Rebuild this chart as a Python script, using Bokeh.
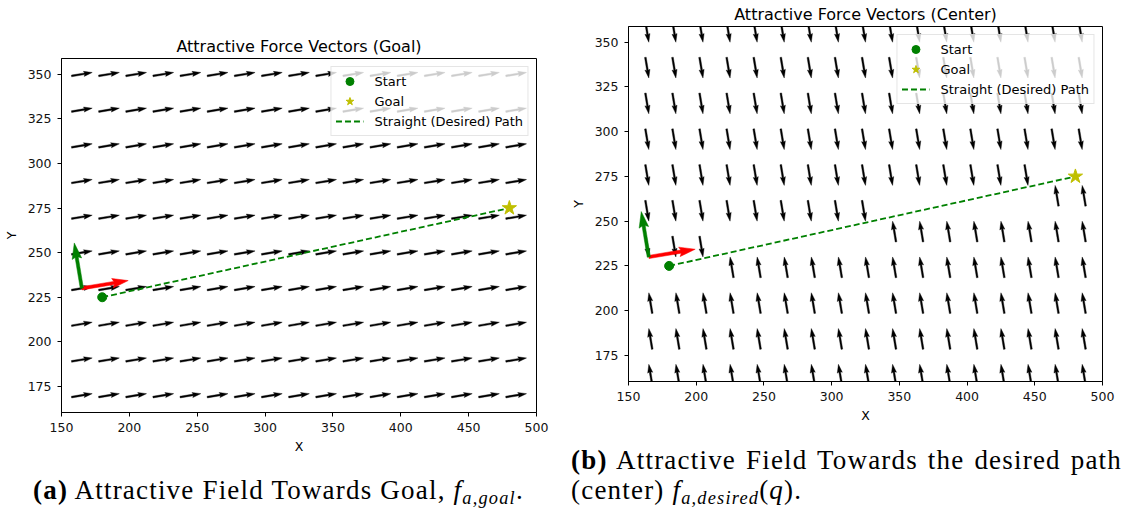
import math
from bokeh.plotting import figure
from bokeh.models import Range1d, FixedTicker, Legend, LegendItem, Div
from bokeh.layouts import row, column
from bokeh.embed import file_html
from bokeh.resources import INLINE

# ---------------- data ----------------
x_ticks = [150, 200, 250, 300, 350, 400, 450, 500]
y_ticks = [175, 200, 225, 250, 275, 300, 325, 350]
grid_x = [165, 185, 205, 225, 245, 265, 285, 305, 325, 345, 365, 385, 405, 425, 445, 465, 485]
grid_y = [170, 190, 210, 230, 250, 270, 290, 310, 330, 350]
start_pt = [180, 225]
goal_pt = [480, 275]
robot_pt = [165, 230]
# direction of the "center" field at every grid point, rows from y=170 up to y=350
center_dirs = [
    "UUUUUUUUUUUUUUUUU",  # 170
    "UUUUUUUUUUUUUUUUU",  # 190
    "UUUUUUUUUUUUUUUUU",  # 210
    "DDDUUUUUUUUUUUUUU",  # 230
    "DDDDDDDDDUUUUUUUU",  # 250
    "DDDDDDDDDDDDDDDUU",  # 270
    "DDDDDDDDDDDDDDDDD",  # 290
    "DDDDDDDDDDDDDDDDD",  # 310
    "DDDDDDDDDDDDDDDDD",  # 330
    "DDDDDDDDDDDDDDDDD",  # 350
]
titles = ["Attractive Force Vectors (Goal)", "Attractive Force Vectors (Center)"]
legend_labels = ["Start", "Goal", "Straight (Desired) Path"]
caption_a = '<b>(a)</b> Attractive Field Towards Goal, <i>f</i><sub style="font-size:0.68em;vertical-align:-0.28em;line-height:0"><i>a,goal</i></sub>.'
caption_b = ('<span style="word-spacing:2px"><b>(b)</b> Attractive Field Towards the desired path</span><br>'
             '(center) <i>f</i><sub style="font-size:0.68em;vertical-align:-0.28em;line-height:0"><i>a,desired</i></sub>(<i>q</i>).')

# ---------------- geometry / style ----------------
X0, X1 = 150, 500
Y0, Y1 = 160.4, 358.8
FONT = "DejaVu Sans"

path_ang = math.atan2(goal_pt[1] - start_pt[1], goal_pt[0] - start_pt[0])


def arrow_poly(x0, y0, ang, L, w, sx, sy, pivot):
    ux, uy = math.cos(ang), math.sin(ang)
    px, py = -uy, ux
    hl, hw, hal = 5 * w, 1.5 * w, 4.5 * w
    pts = [(0, -w / 2), (L - hal, -w / 2), (L - hl, -hw), (L, 0),
           (L - hl, hw), (L - hal, w / 2), (0, w / 2)]
    off = {"tail": 0.0, "mid": L / 2, "tip": L}[pivot]
    xs = [x0 + ((a - off) * ux + b * px) / sx for a, b in pts]
    ys = [y0 + ((a - off) * uy + b * py) / sy for a, b in pts]
    return xs, ys


def make_fig(title, fw, fh, mbl, mbr, mbt, mbb):
    p = figure(frame_width=fw, frame_height=fh,
               x_range=Range1d(X0, X1), y_range=Range1d(Y0, Y1),
               output_backend="svg", toolbar_location=None,
               min_border_left=mbl, min_border_right=mbr,
               min_border_top=mbt, min_border_bottom=mbb,
               background_fill_color="white", border_fill_color="white")
    p.title.text = title
    p.title.align = "center"
    p.title.text_font = FONT
    p.title.text_font_size = "16px"
    p.title.text_font_style = "normal"
    p.title.text_color = "black"
    p.title.standoff = 5
    p.title.text_line_height = 1.0
    p.xgrid.visible = False
    p.ygrid.visible = False
    p.outline_line_color = "black"
    p.outline_line_alpha = 1.0
    p.outline_line_width = 1
    for ax, lab, ticks in ((p.xaxis, "X", x_ticks), (p.yaxis, "Y", y_ticks)):
        ax.ticker = FixedTicker(ticks=ticks)
        ax.axis_label = lab
        ax.axis_label_text_font = FONT
        ax.axis_label_text_font_size = "12.5px"
        ax.axis_label_text_font_style = "normal"
        ax.axis_label_text_color = "black"
        ax.major_label_text_font = FONT
        ax.major_label_text_font_size = "12.5px"
        ax.major_label_text_color = "#111111"
        ax.major_tick_in = 0
        ax.major_tick_out = 4
        ax.minor_tick_line_color = None
        ax.axis_line_color = "black"
        ax.major_tick_line_color = "black"
        ax.major_label_standoff = 6
    p.yaxis.axis_label_standoff = 6
    p.xaxis.axis_label_standoff = 4
    return p


def decorate(p, fw, fh, field_xs, field_ys):
    sx = fw / (X1 - X0)
    sy = fh / (Y1 - Y0)
    p.patches(field_xs, field_ys, fill_color="black", line_color="black", line_width=0.4)
    path_r = p.line([start_pt[0], goal_pt[0]], [start_pt[1], goal_pt[1]],
                    line_color="#008000", line_width=1.8, line_dash="6 3")
    rx, ry = arrow_poly(robot_pt[0], robot_pt[1], path_ang, 47, 3.2, sx, sy, "tail")
    gx, gy = arrow_poly(robot_pt[0], robot_pt[1], path_ang + math.pi / 2, 46, 3.2, sx, sy, "tail")
    p.patches([rx, gx], [ry, gy], fill_color=["#ff0000", "#008000"],
              line_color=["#ff0000", "#008000"], line_width=0.5)
    start_r = p.scatter([start_pt[0]], [start_pt[1]], marker="circle", size=9,
                        fill_color="#008000", line_color="#008000")
    goal_r = p.scatter([goal_pt[0]], [goal_pt[1]], marker="star", size=15,
                       fill_color="#bfbf00", line_color="#bfbf00")
    legend = Legend(items=[LegendItem(label=legend_labels[0], renderers=[start_r]),
                           LegendItem(label=legend_labels[1], renderers=[goal_r]),
                           LegendItem(label=legend_labels[2], renderers=[path_r])],
                    location="top_right", margin=8, padding=4, spacing=0,
                    glyph_width=28, glyph_height=20, label_height=20, label_standoff=11,
                    label_text_font=FONT, label_text_font_size="13px",
                    label_text_color="black",
                    border_line_color="#cccccc", border_line_width=1,
                    background_fill_color="white", background_fill_alpha=0.8)
    p.add_layout(legend, "center")


# ---------- left chart ----------
FW_A, FH_A = 475, 354
pa = make_fig(titles[0], FW_A, FH_A, 56, 31, 58, 50)
sxa, sya = FW_A / (X1 - X0), FH_A / (Y1 - Y0)
fa_xs, fa_ys = [], []
for yy in grid_y:
    for xx in grid_x:
        xs, ys = arrow_poly(xx, yy, path_ang, 21, 1.7, sxa, sya, "mid")
        fa_xs.append(xs)
        fa_ys.append(ys)
decorate(pa, FW_A, FH_A, fa_xs, fa_ys)

# ---------- right chart ----------
FW_B, FH_B = 474, 355
pb = make_fig(titles[1], FW_B, FH_B, 58, 16, 18, 44)
sxb, syb = FW_B / (X1 - X0), FH_B / (Y1 - Y0)
fb_xs, fb_ys = [], []
for yy, dirs in zip(grid_y, center_dirs):
    for xx, d in zip(grid_x, dirs):
        ang = path_ang - math.pi / 2 if d == "D" else path_ang + math.pi / 2
        xs, ys = arrow_poly(xx, yy, ang, 21, 1.7, sxb, syb, "tip")
        fb_xs.append(xs)
        fb_ys.append(ys)
decorate(pb, FW_B, FH_B, fb_xs, fb_ys)

CAP_STYLE = ("font-family:'Liberation Serif',serif;font-size:27px;line-height:31px;"
             "letter-spacing:1.2px;white-space:nowrap;color:black;")
div_a = Div(text=f'<div style="{CAP_STYLE}line-height:28px">{caption_a}</div>',
            width=528, height=28, margin=(14, 0, 0, 33))
div_b = Div(text=f'<div style="{CAP_STYLE}line-height:30px">{caption_b}</div>',
            width=544, height=62, margin=(20, 0, 0, 4))

layout = row(column(pa, div_a), column(pb, div_b))

open("out.html", "w").write(file_html(layout, INLINE))
